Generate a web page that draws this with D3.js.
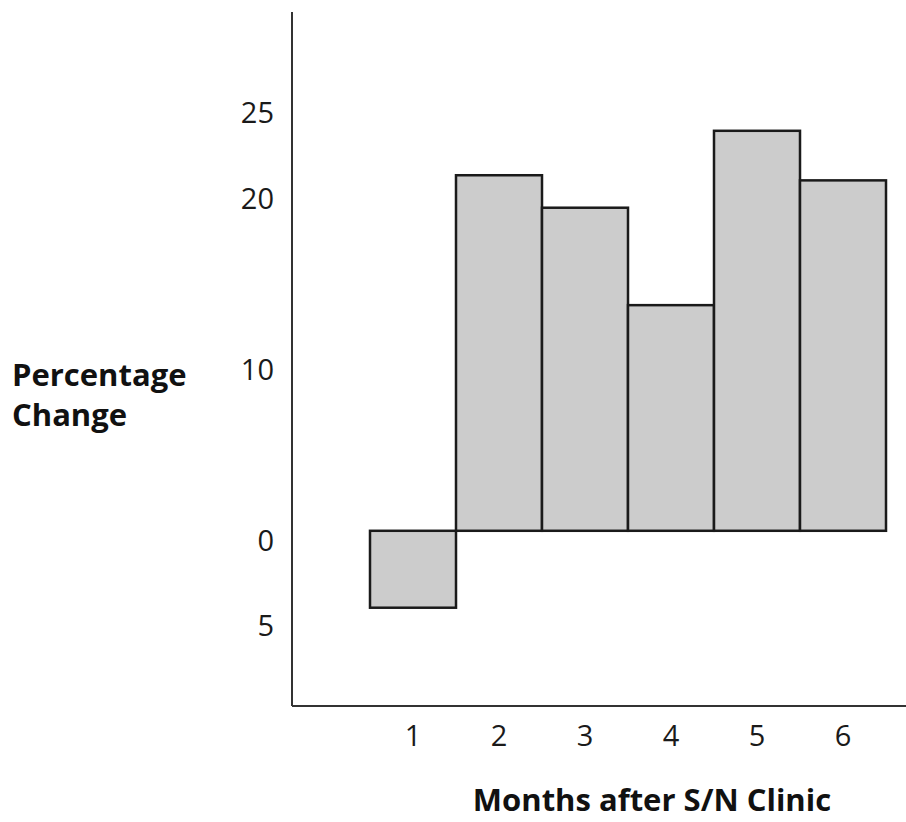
<!DOCTYPE html>
<html>
<head>
  <meta charset="utf-8">
  <script src="https://d3js.org/d3.v7.min.js"></script>
  <style>
    body { margin: 0; background: #fff; overflow: hidden; }
    svg { display: block; }
    text { font-family: "Open Sans", sans-serif; fill: #1a1a1a; }
    .tick text { font-size: 29px; }
    .label { font-size: 31px; font-weight: bold; fill: #111; }
  </style>
</head>
<body>
<script>
  // data
  var months = ["1", "2", "3", "4", "5", "6"];
  var change = [-4.5, 20.8, 18.9, 13.2, 23.4, 20.5];
  var yTicks = [25, 20, 10, 0, -5];

  var width = 906, height = 822;

  var svg = d3.select("body").append("svg")
      .attr("width", width)
      .attr("height", height);

  var x = d3.scaleBand()
      .domain(months)
      .range([370, 886])
      .paddingInner(0);

  var y = d3.scaleLinear()
      .domain([-10.25, 30.35])
      .range([706, 12]);

  // bars
  svg.selectAll("rect.bar")
      .data(months)
    .enter().append("rect")
      .attr("class", "bar")
      .attr("x", function(d) { return x(d); })
      .attr("width", x.bandwidth())
      .attr("y", function(d, i) { return y(Math.max(0, change[i])); })
      .attr("height", function(d, i) { return Math.abs(y(change[i]) - y(0)); })
      .style("fill", "#cccccc")
      .style("stroke", "#1a1a1a")
      .style("stroke-width", 2.5);

  // axis lines
  svg.append("line")
      .attr("x1", 292).attr("x2", 292)
      .attr("y1", y.range()[1]).attr("y2", y.range()[0])
      .style("stroke", "#333").style("stroke-width", 2);
  svg.append("line")
      .attr("x1", 292).attr("x2", width)
      .attr("y1", y.range()[0]).attr("y2", y.range()[0])
      .style("stroke", "#333").style("stroke-width", 2);

  // y tick labels (sit a little below their values in the original)
  var yAxis = svg.append("g")
      .attr("transform", "translate(292,10)")
      .call(d3.axisLeft(y)
        .tickValues(yTicks)
        .tickSize(0)
        .tickPadding(18)
        .tickFormat(function(d) { return Math.abs(d); }));
  yAxis.select(".domain").remove();

  var xAxis = svg.append("g")
      .attr("transform", "translate(0," + y.range()[0] + ")")
      .call(d3.axisBottom(x).tickSize(0).tickPadding(19));
  xAxis.select(".domain").remove();

  svg.selectAll(".tick text").attr("font-family", null).attr("font-size", null);

  svg.append("text")
      .attr("class", "label")
      .attr("x", 12).attr("y", 386)
      .text("Percentage");
  svg.append("text")
      .attr("class", "label")
      .attr("x", 12).attr("y", 426)
      .text("Change");

  svg.append("text")
      .attr("class", "label")
      .attr("x", 652).attr("y", 811)
      .attr("text-anchor", "middle")
      .text("Months after S/N Clinic");
</script>
</body>
</html>
